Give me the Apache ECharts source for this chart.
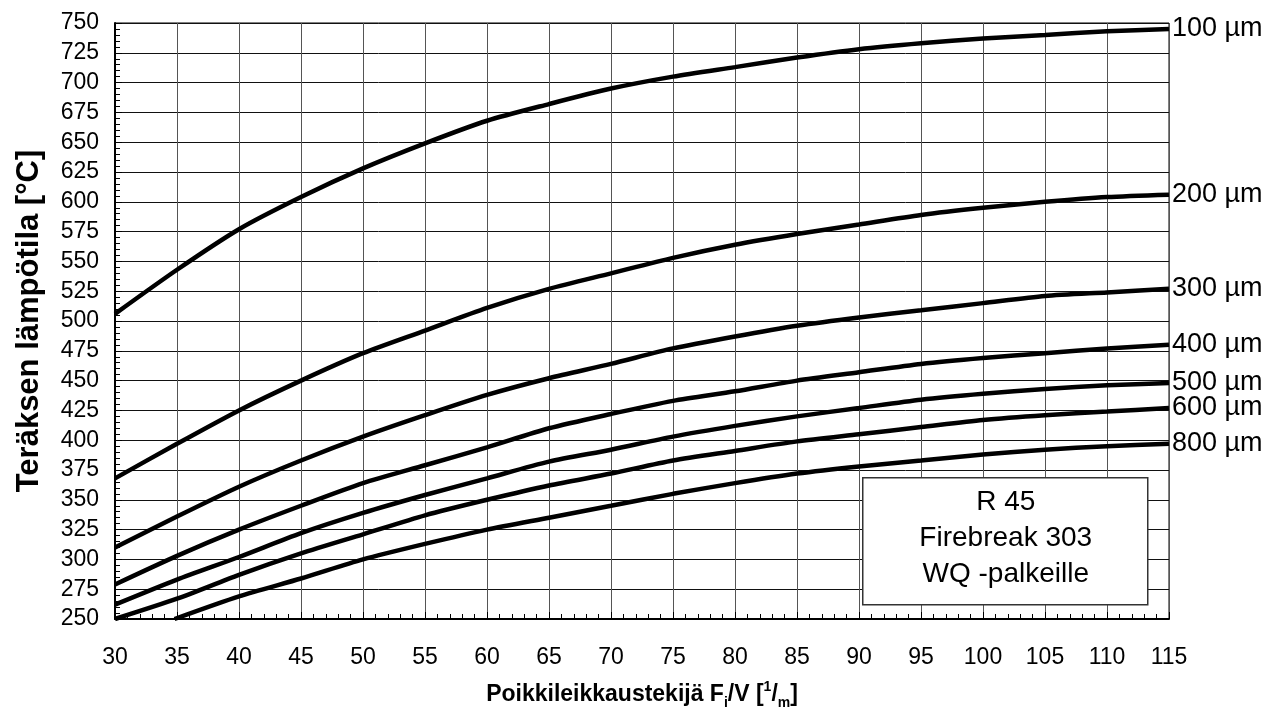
<!DOCTYPE html>
<html>
<head>
<meta charset="utf-8">
<script src="https://cdn.jsdelivr.net/npm/echarts@6/dist/echarts.min.js"></script>
<style>
  html, body { margin: 0; padding: 0; background: #fff; }
  #chart { width: 1266px; height: 715px; }
</style>
</head>
<body>
<div id="chart"></div>
<script>
// Section factor Fi/V [1/m]
const sectionFactor = [30, 35, 40, 45, 50, 55, 60, 65, 70, 75, 80, 85, 90, 95, 100, 105, 110, 115];

// Steel temperature [°C] per coating thickness
const temp100 = [506, 543, 577, 604, 628, 649, 668, 682, 695, 705, 713, 721, 728, 733, 737, 740, 743, 745];
const temp200 = [368, 397, 425, 450, 473, 492, 511, 527, 540, 553, 564, 573, 581, 589, 595, 600, 604, 606];
const temp300 = [310, 336, 361, 383, 403, 421, 438, 452, 464, 477, 487, 496, 503, 509, 515, 521, 524, 527];
const temp400 = [279, 303, 325, 345, 364, 379, 394, 410, 422, 433, 441, 450, 457, 464, 469, 473, 477, 480];
const temp500 = [262, 283, 302, 322, 339, 354, 368, 382, 392, 403, 412, 420, 427, 434, 439, 443, 446, 448];
const temp600 = [250, 267, 287, 305, 321, 337, 350, 362, 372, 383, 391, 399, 405, 411, 417, 421, 424, 427];
// 800 µm curve enters the plot at the 250 °C floor
const sectionFactor800 = [34.8, 40, 45, 50, 55, 60, 65, 70, 75, 80, 85, 90, 95, 100, 105, 110, 115];
const temp800 = [250, 269, 284, 300, 313, 325, 335, 345, 355, 364, 372, 378, 383, 388, 392, 395, 397];

const thicknessNames = ['100 µm', '200 µm', '300 µm', '400 µm', '500 µm', '600 µm', '800 µm'];
const curves = [
  [sectionFactor, temp100],
  [sectionFactor, temp200],
  [sectionFactor, temp300],
  [sectionFactor, temp400],
  [sectionFactor, temp500],
  [sectionFactor, temp600],
  [sectionFactor800, temp800]
];

const infoLines = ['R 45', 'Firebreak 303', 'WQ -palkeille'];

const FONT = '"Liberation Sans", Arial, sans-serif';

const series = curves.map(([xs, ys], i) => ({
  name: thicknessNames[i],
  type: 'line',
  data: xs.map((x, k) => [x, ys[k]]),
  symbol: 'none',
  smooth: 0.25,
  lineStyle: { color: '#000', width: 4.5 },
  endLabel: {
    show: true,
    formatter: '{a}',
    color: '#000',
    fontFamily: FONT,
    fontSize: 27,
    distance: 3
  },
  emphasis: { disabled: true },
  silent: true
}));

const chart = echarts.init(document.getElementById('chart'), null, { renderer: 'canvas' });

chart.setOption({
  animation: false,
  backgroundColor: '#fff',
  textStyle: { fontFamily: FONT },
  grid: {
    left: 115, right: 97, top: 23, bottom: 94,
    show: true, borderColor: '#000', borderWidth: 1, backgroundColor: 'transparent'
  },
  xAxis: {
    type: 'value',
    min: 30, max: 115, interval: 5,
    name: '{b|Poikkileikkaustekijä F}{sub|i}{b|/V [}{sup|1}{b|/}{sub|m}{b|]}',
    nameLocation: 'middle',
    nameGap: 61,
    nameTextStyle: {
      rich: {
        b: { fontFamily: FONT, fontSize: 23, fontWeight: 'bold', color: '#000', lineHeight: 30, verticalAlign: 'middle' },
        sub: { fontFamily: FONT, fontSize: 14, fontWeight: 'bold', color: '#000', lineHeight: 14, verticalAlign: 'bottom' },
        sup: { fontFamily: FONT, fontSize: 14, fontWeight: 'bold', color: '#000', lineHeight: 14, verticalAlign: 'top' }
      }
    },
    axisLine: { show: true, lineStyle: { color: '#000', width: 2 } },
    axisTick: { show: true, inside: true, length: 7, lineStyle: { color: '#000', width: 1 } },
    minorTick: { show: true, splitNumber: 5, length: 5, lineStyle: { color: '#000', width: 1 } },
    axisLabel: { color: '#000', fontSize: 23, fontFamily: FONT, margin: 27 },
    splitLine: { show: true, lineStyle: { color: '#555', width: 1 } }
  },
  yAxis: {
    type: 'value',
    min: 250, max: 750, interval: 25,
    name: 'Teräksen lämpötila [°C]',
    nameLocation: 'middle',
    nameGap: 70,
    nameTextStyle: { fontFamily: FONT, fontSize: 31, fontWeight: 'bold', color: '#000' },
    axisLine: { show: true, lineStyle: { color: '#000', width: 2 } },
    axisTick: { show: true, inside: true, length: 7, lineStyle: { color: '#000', width: 1 } },
    minorTick: { show: true, splitNumber: 5, length: 5, lineStyle: { color: '#000', width: 1 } },
    axisLabel: { color: '#000', fontSize: 23, fontFamily: FONT, margin: 16 },
    splitLine: { show: true, lineStyle: { color: '#111', width: 1 } }
  },
  series: series,
  graphic: [{
    type: 'group',
    left: 862,
    top: 477,
    z: 100,
    children: [
      {
        type: 'rect',
        z: 100,
        shape: { x: 0, y: 0, width: 285, height: 127 },
        style: { fill: '#fff', stroke: '#333', lineWidth: 1.5 }
      },
      {
        type: 'text',
        z: 101,
        x: 143,
        y: 7,
        style: {
          text: infoLines.join('\n'),
          fill: '#000',
          fontFamily: FONT,
          fontSize: 28,
          align: 'center',
          lineHeight: 36
        }
      }
    ]
  }]
});
</script>
</body>
</html>
